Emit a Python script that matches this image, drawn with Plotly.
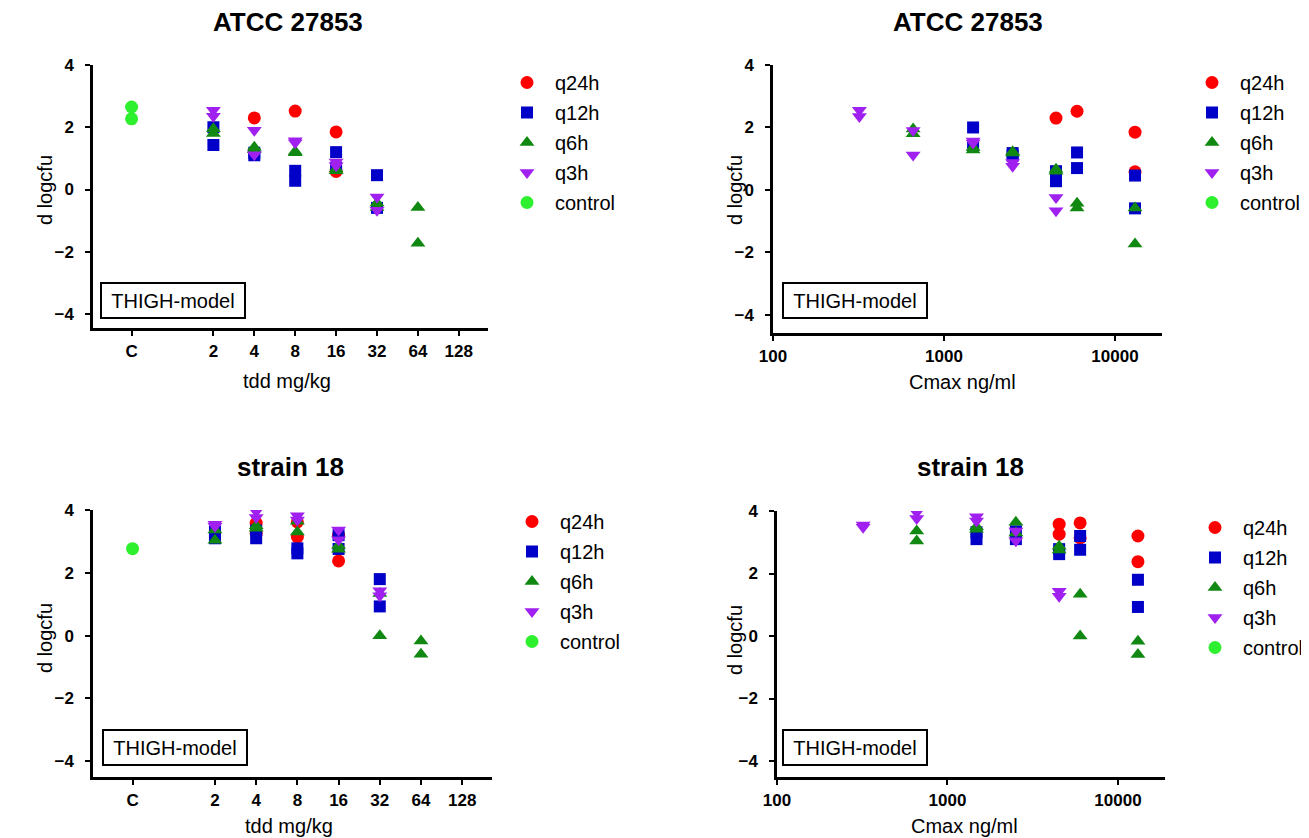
import plotly.graph_objects as go

W, H = 1309, 838
OFF = 8  # page offset of the figure inside the browser window

# ---------------- data ----------------
regimens = ["q24h", "q12h", "q6h", "q3h", "control"]
colors = {"q24h": "#FF0000", "q12h": "#0000C8", "q6h": "#118811",
          "q3h": "#A020F0", "control": "#2EF02E"}
symbols = {"q24h": "circle", "q12h": "square", "q6h": "triangle-up",
           "q3h": "triangle-down", "control": "circle"}
sizes = {"q24h": 13, "q12h": 12, "q6h": 13, "q3h": 13, "control": 13}

tdd_ticks = [0.5, 2, 4, 8, 16, 32, 64, 128]
tdd_ticktext = ["C", "2", "4", "8", "16", "32", "64", "128"]
cmax_ticks = [100, 1000, 10000]
cmax_ticktext = ["100", "1000", "10000"]
y_ticks = [-4, -2, 0, 2, 4]

# ATCC 27853
atcc_q24h_tdd = [4, 8, 16, 16]
atcc_q24h_cmax = [4520, 6000, 13100, 13100]
atcc_q24h_y = [2.3, 2.52, 1.85, 0.58]

atcc_q12h_tdd = [2, 2, 4, 4, 8, 8, 16, 16, 32, 32]
atcc_q12h_cmax = [1480, 1480, 2520, 2520, 4520, 4520, 6000, 6000, 13100, 13100]
atcc_q12h_y = [2.0, 1.43, 1.18, 1.1, 0.6, 0.28, 1.2, 0.7, 0.46, -0.59]

atcc_q6h_tdd = [2, 2, 4, 4, 8, 8, 16, 16, 32, 32, 64, 64]
atcc_q6h_cmax = [660, 660, 1480, 1480, 2520, 2520, 4520, 4520, 6000, 6000, 13100, 13100]
atcc_q6h_y = [1.95, 1.8, 1.36, 1.28, 1.22, 1.18, 0.66, 0.6, -0.43, -0.58, -0.58, -1.73]

atcc_q3h_tdd = [2, 2, 4, 4, 8, 8, 16, 16, 32, 32]
atcc_q3h_cmax = [320, 320, 660, 660, 1480, 1480, 2520, 2520, 4520, 4520]
atcc_q3h_y = [2.55, 2.35, 1.9, 1.12, 1.57, 1.5, 0.88, 0.76, -0.24, -0.67]

atcc_control_tdd = [0.5, 0.5]
atcc_control_y = [2.65, 2.27]

# strain 18
s18_q24h_tdd = [4, 4, 8, 8, 16, 16]
s18_q24h_cmax = [4520, 4520, 6000, 6000, 13100, 13100]
s18_q24h_y = [3.58, 3.26, 3.62, 3.14, 3.2, 2.38]

s18_q12h_tdd = [2, 2, 4, 4, 8, 8, 16, 16, 32, 32]
s18_q12h_cmax = [1480, 1480, 2520, 2520, 4520, 4520, 6000, 6000, 13100, 13100]
s18_q12h_y = [3.32, 3.1, 3.35, 3.1, 2.78, 2.62, 3.2, 2.76, 1.8, 0.93]

s18_q6h_tdd = [2, 2, 4, 4, 8, 8, 16, 16, 32, 32, 64, 64]
s18_q6h_cmax = [660, 660, 1480, 1480, 2520, 2520, 4520, 4520, 6000, 6000, 13100, 13100]
s18_q6h_y = [3.36, 3.04, 3.5, 3.42, 3.64, 3.3, 2.87, 2.75, 1.34, 0.0, -0.17, -0.59]

s18_q3h_tdd = [2, 2, 4, 4, 8, 8, 16, 16, 32, 32]
s18_q3h_cmax = [320, 320, 660, 660, 1480, 1480, 2520, 2520, 4520, 4520]
s18_q3h_y = [3.55, 3.48, 3.95, 3.76, 3.82, 3.68, 3.36, 3.05, 1.43, 1.27]

s18_control_tdd = [0.5]
s18_control_y = [2.77]

panel_data = {
    "tl": {"q24h": (atcc_q24h_tdd, atcc_q24h_y), "q12h": (atcc_q12h_tdd, atcc_q12h_y),
           "q6h": (atcc_q6h_tdd, atcc_q6h_y), "q3h": (atcc_q3h_tdd, atcc_q3h_y),
           "control": (atcc_control_tdd, atcc_control_y)},
    "tr": {"q24h": (atcc_q24h_cmax, atcc_q24h_y), "q12h": (atcc_q12h_cmax, atcc_q12h_y),
           "q6h": (atcc_q6h_cmax, atcc_q6h_y), "q3h": (atcc_q3h_cmax, atcc_q3h_y),
           "control": ([None], [None])},
    "bl": {"q24h": (s18_q24h_tdd, s18_q24h_y), "q12h": (s18_q12h_tdd, s18_q12h_y),
           "q6h": (s18_q6h_tdd, s18_q6h_y), "q3h": (s18_q3h_tdd, s18_q3h_y),
           "control": (s18_control_tdd, s18_control_y)},
    "br": {"q24h": (s18_q24h_cmax, s18_q24h_y), "q12h": (s18_q12h_cmax, s18_q12h_y),
           "q6h": (s18_q6h_cmax, s18_q6h_y), "q3h": (s18_q3h_cmax, s18_q3h_y),
           "control": ([None], [None])},
}


def fx(px):
    return (px - OFF) / W


def fy(py):
    return 1 - (py - OFF) / H


# ---------------- layout geometry (window pixels) ----------------
panels = {
    "tl": dict(px=(93, 488), py=(65, 328), xr=[-0.585, 2.322], yr=[-4.45, 4], kind="tdd",
               title="ATCC 27853", tpos=(288, 22), leg=(499, 63), xt=(287, 381), yt=(45, 190),
               box=(173, 300)),
    "tr": dict(px=(773, 1162), py=(65, 333), xr=[2, 4.275], yr=[-4.58, 4], kind="cmax",
               title="ATCC 27853", tpos=(968, 22), leg=(1184, 63), xt=(962, 382), yt=(735, 190),
               box=(855, 300)),
    "bl": dict(px=(93, 492), py=(510, 777), xr=[-0.59, 2.325], yr=[-4.5, 4], kind="tdd",
               title="strain 18", tpos=(290, 467), leg=(504, 502), xt=(289, 826), yt=(45, 638),
               box=(175, 747)),
    "br": dict(px=(777, 1165), py=(511, 777), xr=[2, 4.276], yr=[-4.51, 4], kind="cmax",
               title="strain 18", tpos=(970, 467), leg=(1187, 508), xt=(964, 826), yt=(735, 640),
               box=(855, 747)),
}

fig = go.Figure()
layout = dict(width=W, height=H, margin=dict(l=0, r=0, t=0, b=0, autoexpand=False),
              paper_bgcolor="white", plot_bgcolor="white", showlegend=True)
annotations = []

tick_font = dict(family="Liberation Sans Narrow, Arial Narrow, sans-serif", size=17,
                 color="black", weight="bold")
text_font = dict(family="Liberation Sans, Arial, sans-serif", size=20, color="black")

for i, (name, p) in enumerate(panels.items(), start=1):
    xa = "xaxis" if i == 1 else f"xaxis{i}"
    ya = "yaxis" if i == 1 else f"yaxis{i}"
    xref = "x" if i == 1 else f"x{i}"
    yref = "y" if i == 1 else f"y{i}"
    leg = "legend" if i == 1 else f"legend{i}"

    x0, x1 = p["px"]
    yt0, yb0 = p["py"]
    common = dict(showline=True, linecolor="black", linewidth=2.5, ticks="outside",
                  tickwidth=2, ticklen=5, tickcolor="black", showgrid=False,
                  zeroline=False, tickfont=tick_font, automargin=False)
    if p["kind"] == "tdd":
        layout[xa] = dict(type="log", domain=[fx(x0), fx(x1)], range=p["xr"],
                          tickvals=tdd_ticks, ticktext=tdd_ticktext, anchor=yref,
                          ticklabelstandoff=1, **common)
    else:
        layout[xa] = dict(type="log", domain=[fx(x0), fx(x1)], range=p["xr"],
                          tickvals=cmax_ticks, ticktext=cmax_ticktext, anchor=yref,
                          ticklabelstandoff=1, **common)
    layout[ya] = dict(domain=[fy(yb0), fy(yt0)], range=p["yr"], tickvals=y_ticks,
                      anchor=xref, ticklabelstandoff=8, **common)

    lx, ly = p["leg"]
    layout[leg] = dict(x=fx(lx), y=fy(ly), xanchor="left", yanchor="top",
                       bgcolor="rgba(0,0,0,0)", font=text_font, tracegroupgap=1,
                       itemsizing="trace", itemwidth=46)

    for r in regimens:
        xs, ys = panel_data[name][r]
        fig.add_trace(go.Scatter(
            x=xs, y=ys, mode="markers", name=r, xaxis=xref, yaxis=yref, legend=leg,
            legendgroup=f"{name}_{r}",
            marker=dict(color=colors[r], symbol=symbols[r], size=sizes[r], line=dict(width=0)),
            hoverinfo="x+y+name"))

    tx, ty = p["tpos"]
    annotations.append(dict(text=f"<b>{p['title']}</b>", x=fx(tx), y=fy(ty), xref="paper",
                            yref="paper", showarrow=False, xanchor="center", yanchor="middle",
                            font=dict(family="Liberation Sans, Arial, sans-serif", size=26,
                                      color="black")))
    ax_, ay_ = p["xt"]
    annotations.append(dict(text="tdd mg/kg" if p["kind"] == "tdd" else "Cmax ng/ml",
                            x=fx(ax_), y=fy(ay_), xref="paper", yref="paper",
                            showarrow=False, xanchor="center", yanchor="middle", font=text_font))
    yx, yy = p["yt"]
    annotations.append(dict(text="d logcfu", x=fx(yx), y=fy(yy), xref="paper",
                            yref="paper", showarrow=False, xanchor="center", yanchor="middle",
                            textangle=-90, font=text_font))
    bx, by = p["box"]
    annotations.append(dict(text="THIGH-model", x=fx(bx), y=fy(by), xref="paper",
                            yref="paper", showarrow=False, xanchor="center", yanchor="middle",
                            width=136, height=27, borderpad=3, borderwidth=2,
                            bordercolor="black", bgcolor="white", align="center",
                            font=text_font))

layout["annotations"] = annotations
fig.update_layout(**layout)
fig.write_html("out.html")
